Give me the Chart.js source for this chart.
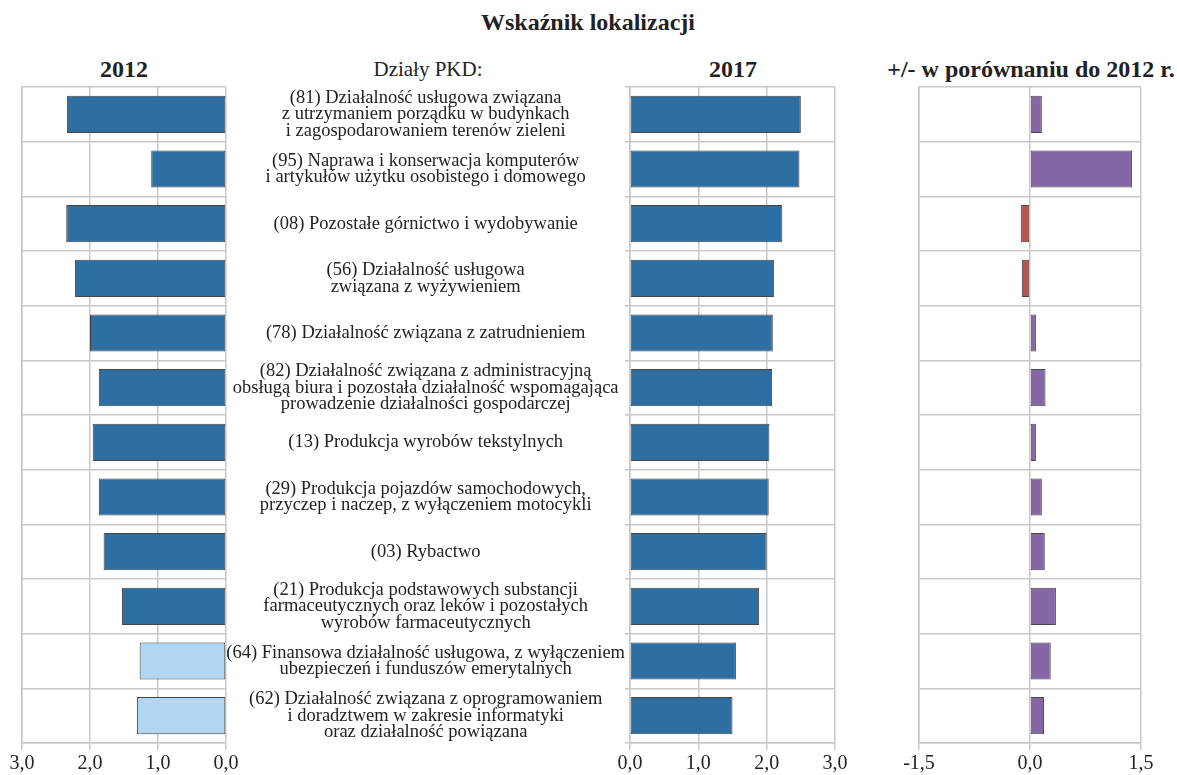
<!DOCTYPE html>
<html lang="pl">
<head>
<meta charset="utf-8">
<title>Wskaźnik lokalizacji</title>
<script src="https://cdn.jsdelivr.net/npm/chart.js@4.4.1/dist/chart.umd.min.js"></script>
<style>
  body { margin: 0; background: #fff; width: 1177px; height: 775px; position: relative; overflow: hidden;
         font-family: 'Liberation Serif', 'Times New Roman', serif; color: #222; }
  .t { position: absolute; white-space: nowrap; transform: translate(-50%, -50%); }
  .b { font-weight: bold; font-size: 24px; }
  canvas { position: absolute; }
</style>
</head>
<body>
<div class="t b" style="left:588px;top:22px">Wskaźnik lokalizacji</div>
<div class="t b" style="left:124px;top:69px">2012</div>
<div class="t" style="left:428px;top:69px;font-size:21px">Działy PKD:</div>
<div class="t b" style="left:733px;top:69px">2017</div>
<div class="t b" style="left:1031px;top:69px">+/- w porównaniu do 2012 r.</div>

<canvas id="c2017" width="635" height="695" style="left:215px;top:80px"></canvas>
<canvas id="c2012" width="250" height="695" style="left:0;top:80px"></canvas>
<canvas id="cDiff" width="287" height="695" style="left:890px;top:80px"></canvas>

<script>
// PKD divisions (multi-line labels, top to bottom)
const categories = [
    ['(81) Działalność usługowa związana', 'z utrzymaniem porządku w budynkach', 'i zagospodarowaniem terenów zieleni'],
    ['(95) Naprawa i konserwacja komputerów', 'i artykułów użytku osobistego i domowego'],
    ['(08) Pozostałe górnictwo i wydobywanie'],
    ['(56) Działalność usługowa', 'związana z wyżywieniem'],
    ['(78) Działalność związana z zatrudnieniem'],
    ['(82) Działalność związana z administracyjną', 'obsługą biura i pozostała działalność wspomagająca', 'prowadzenie działalności gospodarczej'],
    ['(13) Produkcja wyrobów tekstylnych'],
    ['(29) Produkcja pojazdów samochodowych,', 'przyczep i naczep, z wyłączeniem motocykli'],
    ['(03) Rybactwo'],
    ['(21) Produkcja podstawowych substancji', 'farmaceutycznych oraz leków i pozostałych', 'wyrobów farmaceutycznych'],
    ['(64) Finansowa działalność usługowa, z wyłączeniem', 'ubezpieczeń i funduszów emerytalnych'],
    ['(62) Działalność związana z oprogramowaniem', 'i doradztwem w zakresie informatyki', 'oraz działalność powiązana']
];

const values2012 = [2.34, 1.10, 2.35, 2.22, 2.00, 1.87, 1.96, 1.87, 1.80, 1.53, 1.27, 1.31];
const values2017 = [2.50, 2.48, 2.23, 2.11, 2.09, 2.08, 2.04, 2.03, 2.00, 1.89, 1.55, 1.50];
const changeVs2012 = [0.16, 1.38, -0.12, -0.11, 0.08, 0.21, 0.08, 0.16, 0.20, 0.35, 0.28, 0.19];

// last two 2012 bars are drawn lighter in the original
const colors2012 = ['#2e6fa3', '#2e6fa3', '#2e6fa3', '#2e6fa3', '#2e6fa3', '#2e6fa3',
                    '#2e6fa3', '#2e6fa3', '#2e6fa3', '#2e6fa3', '#b0d6f2', '#b0d6f2'];

const levelTicks = [0, 1, 2, 3];
const changeTicks = [-1.5, 0, 1.5];

const gridColor = '#c8c8c8';
const fontFamily = "'Liberation Serif', 'Times New Roman', serif";

function plCommaFormat(v) {
    return Number(v).toFixed(1).replace('.', ',');
}

function xAxis(min, max, ticks, reverse) {
    return {
        type: 'linear',
        min: min,
        max: max,
        reverse: reverse,
        afterBuildTicks: function(scale) {
            scale.ticks = ticks.map(v => ({ value: v }));
        },
        afterFit: function(scale) { scale.height = 32; },
        grid: { color: gridColor, lineWidth: 1.5, tickLength: 7 },
        border: { color: gridColor, width: 1.5 },
        ticks: {
            padding: 2,
            color: '#222',
            font: { family: fontFamily, size: 20 },
            callback: plCommaFormat
        }
    };
}

function hiddenYAxis() {
    return {
        type: 'category',
        offset: true,
        afterFit: function(scale) { scale.width = 0; },
        grid: { offset: true, color: gridColor, lineWidth: 1.5, drawTicks: false },
        border: { color: gridColor, width: 1.5 },
        ticks: { display: false, autoSkip: false }
    };
}

const commonOptions = {
    indexAxis: 'y',
    responsive: false,
    animation: false,
    plugins: { legend: { display: false }, tooltip: { enabled: false } }
};

new Chart(document.getElementById('c2012'), {
    type: 'bar',
    data: {
        labels: categories,
        datasets: [{
            data: values2012,
            backgroundColor: colors2012,
            borderColor: '#454545',
            borderWidth: 1,
            borderSkipped: false,
            barPercentage: 0.68,
            categoryPercentage: 1
        }]
    },
    options: Object.assign({}, commonOptions, {
        layout: { padding: { left: 22, right: 24, top: 7, bottom: 0 } },
        scales: {
            x: xAxis(0, 3, levelTicks, true),
            y: hiddenYAxis()
        }
    })
});

new Chart(document.getElementById('c2017'), {
    type: 'bar',
    data: {
        labels: categories,
        datasets: [{
            data: values2017,
            backgroundColor: '#2e6fa3',
            borderColor: '#454545',
            borderWidth: 1,
            borderSkipped: false,
            barPercentage: 0.68,
            categoryPercentage: 1
        }]
    },
    options: Object.assign({}, commonOptions, {
        layout: { padding: { left: 0, right: 15, top: 7, bottom: 0 } },
        scales: {
            x: xAxis(0, 3, levelTicks, false),
            y: {
                type: 'category',
                offset: true,
                afterFit: function(scale) {
                    scale.width = 415;
                    // labels sit inside their rows, no overflow padding needed
                    scale.paddingTop = 0;
                    scale.paddingBottom = 0;
                },
                grid: { offset: true, color: gridColor, lineWidth: 1.5, tickLength: 5 },
                border: { color: gridColor, width: 1.5 },
                ticks: {
                    autoSkip: false,
                    crossAlign: 'center',
                    padding: 0,
                    color: '#222',
                    font: { family: fontFamily, size: 18.5, lineHeight: 0.9 }
                }
            }
        }
    })
});

new Chart(document.getElementById('cDiff'), {
    type: 'bar',
    data: {
        labels: categories,
        datasets: [{
            data: changeVs2012,
            backgroundColor: changeVs2012.map(v => v < 0 ? '#c0504d' : '#8467a4'),
            borderColor: '#454545',
            borderWidth: 1,
            borderSkipped: false,
            barPercentage: 0.68,
            categoryPercentage: 1
        }]
    },
    options: Object.assign({}, commonOptions, {
        layout: { padding: { left: 29, right: 36, top: 7, bottom: 0 } },
        scales: {
            x: xAxis(-1.5, 1.5, changeTicks, false),
            y: hiddenYAxis()
        }
    })
});
</script>
</body>
</html>
